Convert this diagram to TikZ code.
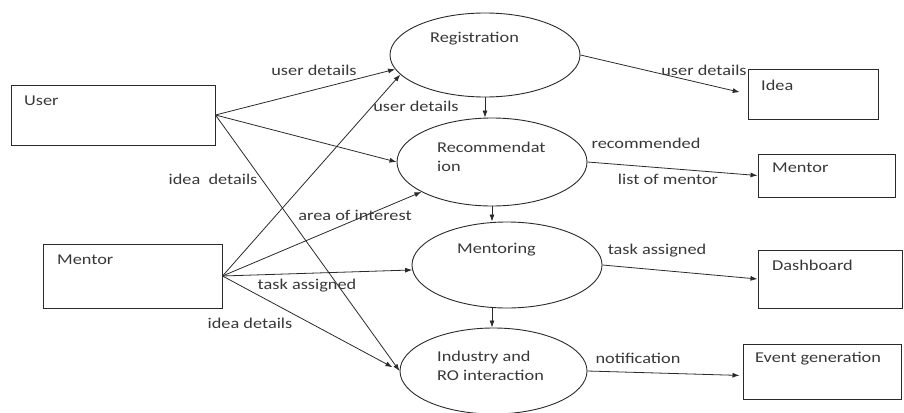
\documentclass[tikz,border=0pt]{standalone}
\usepackage{fontspec}
\setmainfont{Carlito}[FakeStretch=1.22]
\usetikzlibrary{shapes.geometric,arrows.meta,calc}
\definecolor{ink}{HTML}{2A2A2A}
\definecolor{txt}{HTML}{383838}
\tikzset{
  proc/.style={draw=ink, line width=0.9pt, ellipse, inner sep=0pt},
  ent/.style={draw=ink, line width=1pt, rectangle, inner sep=0pt},
  lbl/.style={text=txt, inner sep=0pt, font=\fontsize{15}{19}\selectfont},
  lbll/.style={lbl, anchor=west, align=left},
  arr/.style={draw=ink, line width=0.8pt, -{Latex[length=7pt,width=5pt]}}
}
\begin{document}
\begin{tikzpicture}[x=1pt,y=-1pt]
\useasboundingbox (0,0) rectangle (904,412);
% processes
\node[proc, minimum width=190pt, minimum height=84pt] (reg) at (485,55) {};
\node[proc, minimum width=190pt, minimum height=88pt] (rec) at (492,162) {};
\node[proc, minimum width=190pt, minimum height=86pt] (ment) at (507,265) {};
\node[proc, minimum width=187pt, minimum height=86pt] (ind) at (493.5,371) {};
% entities
\node[ent, minimum width=204pt, minimum height=60pt] (user) at (113,115) {};
\node[ent, minimum width=179pt, minimum height=64pt] (mentl) at (132.5,276) {};
\node[ent, minimum width=130pt, minimum height=50pt] (idea) at (813,94) {};
\node[ent, minimum width=137pt, minimum height=43pt] (mentr) at (826.5,175.5) {};
\node[ent, minimum width=144pt, minimum height=58pt] (dash) at (830,279) {};
\node[ent, minimum width=158pt, minimum height=55pt] (event) at (822,371.5) {};
% texts in processes
\node[lbll] (tReg) at (430,39) {Registration};
\node[lbll] (tRec) at (437,157) {Recommendat\\ion};
\node[lbll] (tMent) at (457,250) {Mentoring};
\node[lbll] (tInd) at (437,366) {Industry and\\RO interaction};
% texts in entities
\node[lbll] (tUser) at (24,101) {User};
\node[lbll] (tMentL) at (57,260) {Mentor};
\node[lbll] (tIdea) at (761,85) {Idea};
\node[lbll] (tMentR) at (772,168) {Mentor};
\node[lbll] (tDash) at (772,265) {Dashboard};
\node[lbll] (tEvent) at (755,359) {Event generation};
% connectors
\draw[arr] (user.east) -- (reg.189);
\draw[arr] (user.east) -- (rec.west);
\draw[arr] (user.east) -- (ind.west);
\draw[arr] (mentl.east) -- (reg.193);
\draw[arr] (mentl.east) -- (rec.203);
\draw[arr] (mentl.east) -- (ment.183);
\draw[arr, shorten >=8pt] (mentl.east) -- (ind.west);
\draw[arr, shorten >=8pt] (reg.east) -- (idea.west);
\draw[arr] (rec.east) -- (mentr.west);
\draw[arr] (ment.east) -- (dash.west);
\draw[arr, shorten >=3pt] (ind.east) -- ([yshift=-4pt]event.west);
\draw[arr] (reg.south) -- (reg.south |- rec.north);
\draw[arr] (rec.south) -- (rec.south |- ment.north);
\draw[arr] (rec.south |- ment.south) -- (rec.south |- ind.north);
% connector labels
\node[lbl] (l1) at (314,70) {user details};
\node[lbl] (l2) at (416,106) {user details};
\node[lbl] (l3) at (213,179) {idea\ \ details};
\node[lbl] (l4) at (355,215) {area of interest};
\node[lbl] (l5) at (307,286) {task assigned};
\node[lbl] (l6) at (250,323) {idea details};
\node[lbl] (l7) at (704,70) {user details};
\node[lbl] (l8) at (646,143) {recommended};
\node[lbl] (l9) at (668,179) {list of mentor};
\node[lbl] (l10) at (657,251) {task assigned};
\node[lbl] (l11) at (638,358) {notification};
\end{tikzpicture}
\end{document}
